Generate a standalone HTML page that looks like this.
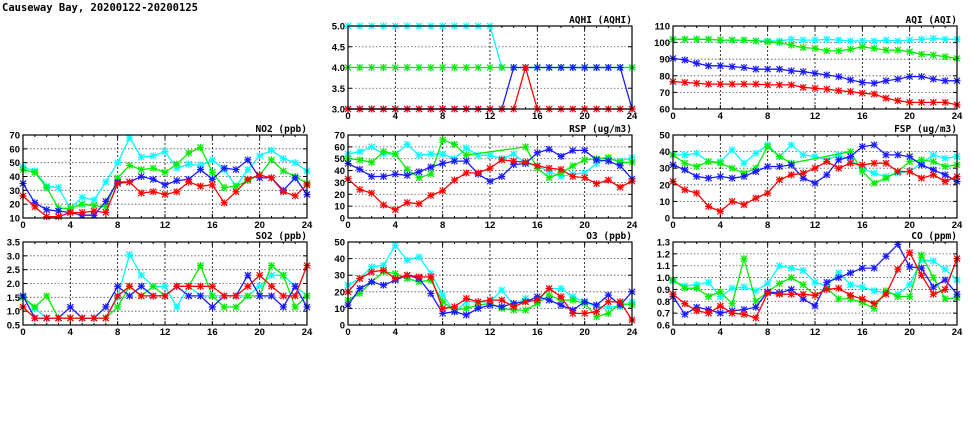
<!DOCTYPE html>
<html><head><meta charset="utf-8"><style>
body{margin:0;background:#fff;width:975px;height:447px;overflow:hidden}
svg{display:block}
.t{font-family:"Liberation Sans",sans-serif;font-size:9.5px;font-weight:bold;fill:#000}
.h{font-family:"DejaVu Sans Mono","Liberation Mono",monospace;font-size:9.5px;font-weight:bold;fill:#000}
</style></head><body>
<svg id="s" width="975" height="447" xmlns="http://www.w3.org/2000/svg">
<text x="2" y="11" class="h" style="font-size:10.5px">Causeway Bay, 20200122-20200125</text>
</svg>
<script>
const C=['#00ffff','#00ee00','#1a1aff','#ff0000'];
const N=null;
const P=[
{x:348,y:26,t:'AQHI (AQHI)',min:3,max:5,ticks:[3,3.5,4,4.5,5],fmt:v=>v.toFixed(1),d:[
[5,5,5,5,5,5,5,5,5,5,5,5,5,4,4,4,4,4,4,4,4,4,4,4,4],
[4,4,4,4,4,4,4,4,4,4,4,4,4,4,4,4,4,4,4,4,4,4,4,4,4],
[3,3,3,3,3,3,3,3,3,3,3,3,3,3,4,4,4,4,4,4,4,4,4,4,3],
[3,3,3,3,3,3,3,3,3,3,3,3,3,3,3,4,3,3,3,3,3,3,3,3,3]]},
{x:673,y:26,t:'AQI (AQI)',min:60,max:110,ticks:[60,70,80,90,100,110],fmt:v=>v,d:[
[102,102,102,102,101.5,101.5,101.5,101,101,101,102,101.5,101.5,102,101.5,101,101,101,101.5,101,101.5,102,102.5,102,102],
[102,102,102,102,101.5,101.5,101.5,101,100.5,100,98.5,97,96.5,95,95,96,97.5,96.5,95.5,95.5,94.5,93,92.5,91.5,90.5],
[90.5,89.5,87.5,86,86,85.5,85,84,84,84,83,82.5,81.5,80.5,79.5,77.5,76,75.5,77,78,79.5,79.5,78,77,77],
[76.5,76,75.5,75,75,75,75,75,74.5,74.5,74.5,73,72.5,72,71,70.5,69.5,69,66.5,65,64,64,64,64,62.5]]},
{x:23,y:135,t:'NO2 (ppb)',min:10,max:70,ticks:[10,20,30,40,50,60,70],fmt:v=>v,d:[
[47,44,33,32,17,25,23,36,50,68,54,55,58,46,49,48,52,45,33,45,55,59,53,50,44],
[45,43,32,17,17,20,19,18,39,48,45,46,43,49,57,61,43,32,33,37,41,52,44,40,35],
[35,21,16,15,14,12,12,22,36,36,40,38,34,37,38,45,38,46,45,52,39,39,30,39,27],
[26,18,11,11,14,14,15,14,35,36,28,29,27,29,36,33,34,21,29,38,41,39,29,26,34]]},
{x:348,y:135,t:'RSP (ug/m3)',min:0,max:70,ticks:[0,10,20,30,40,50,60,70],fmt:v=>v,d:[
[54,56,60,54,54,62,53,54,54,50,59,53,53,50,54,46,44,39,35,37,38,46,50,48,51],
[50,49,47,56,54,41,34,37,66,62,53,N,N,N,N,60,42,34,38,44,49,50,51,47,47],
[46,41,35,35,37,36,39,43,46,48,48,37,31,35,45,46,55,58,52,57,57,49,48,44,33],
[33,24,21,11,7,13,12,19,23,32,38,38,42,49,48,47,44,42,41,35,34,29,32,26,31]]},
{x:673,y:135,t:'FSP (ug/m3)',min:0,max:50,ticks:[0,10,20,30,40,50],fmt:v=>v,d:[
[38,38,39,34,34,41,33,39,44,37,44,38,37,35,38,35,30,27,25,27,28,33,38,36,37],
[38,33,31,34,33,30,27,30,43,37,33,N,N,N,N,40,28,21,24,28,34,35,34,31,32],
[32,29,25,24,25,24,25,28,31,31,32,24,21,26,35,37,43,44,38,38,37,32,29,26,22],
[22,17,15,7,4,10,8,12,15,23,26,27,30,34,30,33,32,33,33,28,28,24,26,22,25]]},
{x:23,y:242,t:'SO2 (ppb)',min:0.5,max:3.5,ticks:[0.5,1,1.5,2,2.5,3,3.5],fmt:v=>v.toFixed(1),d:[
[1.5,1.1,.75,.75,.75,.75,.75,.75,1.5,3.05,2.3,1.9,1.9,1.15,1.9,1.55,1.55,1.55,1.55,1.55,1.9,2.3,2.3,1.9,1.55],
[1.5,1.15,1.55,.75,.75,.75,.75,.75,1.15,1.9,1.55,1.9,1.55,1.9,1.9,2.65,1.55,1.15,1.15,1.55,1.55,2.65,2.3,1.15,1.55],
[1.55,.75,.75,.75,1.15,.75,.75,1.15,1.9,1.55,1.9,1.55,1.55,1.9,1.55,1.55,1.15,1.55,1.55,2.3,1.55,1.55,1.15,1.9,1.15],
[1.15,.75,.75,.75,.75,.75,.75,.75,1.55,1.9,1.55,1.55,1.55,1.9,1.9,1.9,1.9,1.55,1.55,1.9,2.3,1.9,1.55,1.55,2.65]]},
{x:348,y:242,t:'O3 (ppb)',min:0,max:50,ticks:[0,10,20,30,40,50],fmt:v=>v,d:[
[24,28,35,36,48,39,41,31,18,8,14,14,14,21,12,16,14,22,22,17,14,11,11,11,14],
[15,19,26,32,31,28,26,27,14,9,10,12,13,10,9,9,13,18,15,15,13,5,7,13,12],
[12,22,26,24,27,30,28,19,7,8,6,10,12,11,13,14,17,15,12,9,14,12,18,12,20],
[20,28,32,33,28,30,29,29,10,11,16,14,15,15,11,14,15,22,17,7,7,8,14,14,3]]},
{x:673,y:242,t:'CO (ppm)',min:0.6,max:1.3,ticks:[0.6,0.7,0.8,0.9,1,1.1,1.2,1.3],fmt:v=>v.toFixed(1),d:[
[.97,.93,.94,.96,.84,.91,.92,.89,.95,1.10,1.08,1.06,.96,.93,1.04,.94,.92,.89,.87,.86,.94,1.15,1.14,1.07,.98],
[.98,.91,.91,.84,.88,.78,1.16,.80,.88,.95,1.00,.94,.85,.91,.82,.82,.79,.74,.89,.84,.84,1.19,1.00,.82,.83],
[.84,.69,.75,.73,.70,.72,.73,.75,.88,.87,.90,.82,.76,.96,1.00,1.04,1.08,1.08,1.18,1.28,1.09,1.08,.92,.98,.86],
[.86,.78,.72,.70,.76,.70,.69,.66,.87,.86,.86,.86,.85,.90,.91,.85,.82,.78,.86,1.07,1.21,1.02,.86,.90,1.16]]}
];
const W=284,H=83;let o='';
for(const p of P){
 const X=i=>p.x+i*W/24,Y=v=>p.y+H-(v-p.min)/(p.max-p.min)*H;
 for(const t of p.ticks){const y=Y(t);
  if(t!=p.min&&t!=p.max)o+=`<line x1="${p.x}" x2="${p.x+W}" y1="${y}" y2="${y}" stroke="#555" stroke-width="0.8" stroke-dasharray="1.5,2"/>`;
  o+=`<line x1="${p.x}" x2="${p.x+4}" y1="${y}" y2="${y}" stroke="#000"/><line x1="${p.x+W-4}" x2="${p.x+W}" y1="${y}" y2="${y}" stroke="#000"/>`;
  o+=`<text class="t" x="${p.x-3}" y="${y+3.5}" text-anchor="end">${p.fmt(t)}</text>`;}
 for(let i=0;i<=24;i++){const x=X(i);
  if(i%4==0&&i>0&&i<24)o+=`<line x1="${x}" x2="${x}" y1="${p.y}" y2="${p.y+H}" stroke="#000" stroke-width="0.8" stroke-dasharray="2,2"/>`;
  const l=i%4==0?4:2;
  o+=`<line x1="${x}" x2="${x}" y1="${p.y+H-l}" y2="${p.y+H}" stroke="#000"/><line x1="${x}" x2="${x}" y1="${p.y}" y2="${p.y+l}" stroke="#000"/>`;
  if(i%4==0)o+=`<text class="t" x="${x}" y="${p.y+H+10}" text-anchor="middle">${i}</text>`;}
 o+=`<text class="h" x="${p.x+W}" y="${p.y-3}" text-anchor="end">${p.t}</text>`;
 p.d.forEach((s,k)=>{let seg=[],segs=[];s.forEach((v,i)=>{if(v===null)return;seg.push(X(i).toFixed(1)+','+Y(v).toFixed(1));});
  o+=`<polyline points="${seg.join(' ')}" fill="none" stroke="${C[k]}" stroke-width="1.3"/>`;
  s.forEach((v,i)=>{if(v===null)return;const x=X(i),y=Y(v),r=3;
   o+=`<path d="M${x-r},${y-r}L${x+r},${y+r}M${x-r},${y+r}L${x+r},${y-r}M${x},${y-r-.5}V${y+r+.5}M${x-r-.5},${y}H${x+r+.5}" stroke="${C[k]}" stroke-width="1.2"/>`;});
 });
 o+=`<rect x="${p.x}" y="${p.y}" width="${W}" height="${H}" fill="none" stroke="#000" stroke-width="1.2"/>`;
}
document.getElementById('s').insertAdjacentHTML('beforeend',o);
</script>
</body></html>
